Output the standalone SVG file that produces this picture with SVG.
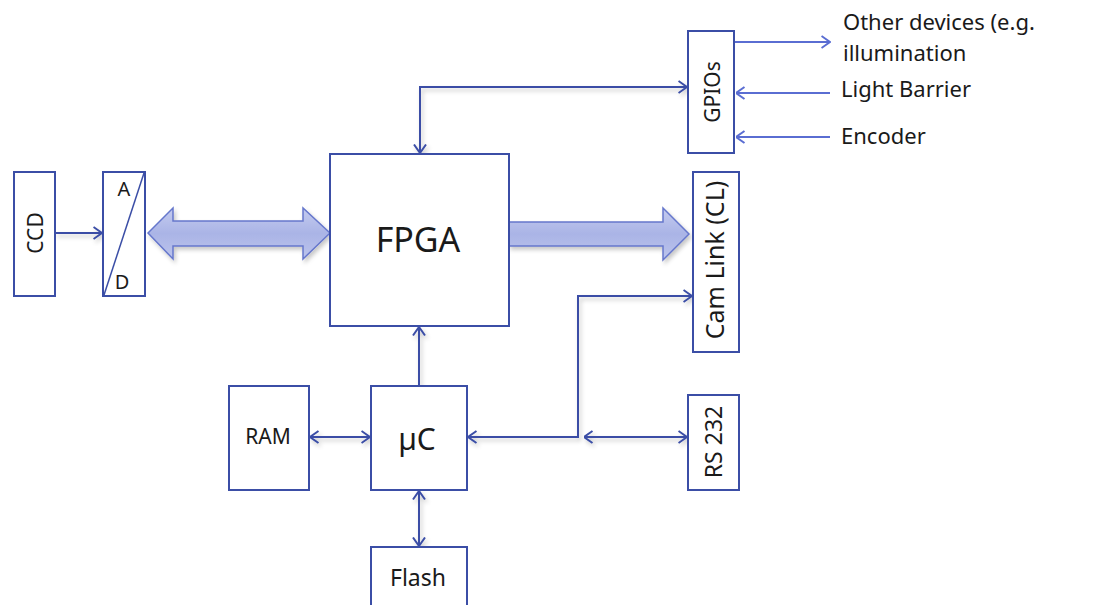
<svg xmlns="http://www.w3.org/2000/svg" width="1106" height="605" viewBox="0 0 1106 605">
  <style>
    .box { fill: #ffffff; stroke: #3b4ea6; stroke-width: 2; }
    .lbl { font-family: "Noto Sans", "Open Sans", sans-serif; fill: #1a1a1a; }
    .wire { fill: none; stroke: #3b4ea6; stroke-width: 2; }
    .wire-lt { fill: none; stroke: #5a6dd2; stroke-width: 2; }
    .bus { fill: url(#busFill); stroke: #6677cc; stroke-width: 1.5; }
  </style>
  <defs>
    <linearGradient id="busFill" x1="0" y1="0" x2="0" y2="1">
      <stop offset="0" stop-color="#c4cbef"/>
      <stop offset="0.5" stop-color="#aab4e6"/>
      <stop offset="1" stop-color="#bcc4ec"/>
    </linearGradient>
    <filter id="shadow" x="-10%" y="-10%" width="130%" height="140%">
      <feDropShadow dx="2" dy="3" stdDeviation="2" flood-color="#000" flood-opacity="0.22"/>
    </filter>
    <marker id="arr" viewBox="0 0 10 14" refX="9.5" refY="7" markerWidth="10" markerHeight="14" markerUnits="userSpaceOnUse" orient="auto-start-reverse">
      <path d="M1,1 L9.5,7 L1,13" fill="none" stroke="#3b4ea6" stroke-width="2"/>
    </marker>
    <marker id="arrLt" viewBox="0 0 10 14" refX="9.5" refY="7" markerWidth="10" markerHeight="14" markerUnits="userSpaceOnUse" orient="auto-start-reverse">
      <path d="M1,1 L9.5,7 L1,13" fill="none" stroke="#5a6dd2" stroke-width="2"/>
    </marker>
  </defs>

  <!-- connectors -->
  <g id="connectors">
    <g filter="url(#shadow)">
      <!-- data buses -->
      <polygon class="bus" points="148,233 173,208 173,221 303,221 303,208 330,233 303,259 303,246 173,246 173,259"/>
      <polygon class="bus" points="509,222 663,222 663,208 689,234 663,260 663,246 509,246"/>
      <!-- CCD to A/D -->
      <path class="wire" d="M55,233 H102" marker-end="url(#arr)"/>
      <!-- FPGA to GPIOs -->
      <path class="wire" d="M420,153 V87 H687" marker-start="url(#arr)" marker-end="url(#arr)"/>
      <!-- uC to FPGA -->
      <path class="wire" d="M419,386 V327" marker-end="url(#arr)"/>
      <!-- RAM to uC -->
      <path class="wire" d="M310,437 H370" marker-start="url(#arr)" marker-end="url(#arr)"/>
      <!-- uC to Flash -->
      <path class="wire" d="M419,491 V546" marker-start="url(#arr)" marker-end="url(#arr)"/>
      <!-- uC to Cam Link -->
      <path class="wire" d="M468,437 H578 V296 H692" marker-start="url(#arr)" marker-end="url(#arr)"/>
      <!-- uC to RS 232 -->
      <path class="wire" d="M584,437 H687" marker-start="url(#arr)" marker-end="url(#arr)"/>
    </g>
    <!-- external GPIO signals -->
    <path class="wire-lt" d="M735,42 H830" marker-end="url(#arrLt)"/>
    <path class="wire-lt" d="M830,93 H736" marker-end="url(#arrLt)"/>
    <path class="wire-lt" d="M830,137 H736" marker-end="url(#arrLt)"/>
  </g>

  <!-- nodes -->
  <g id="ccd">
    <rect class="box" x="14" y="172" width="41" height="124"/>
    <text class="lbl" font-size="21" text-anchor="middle" transform="translate(43,233) rotate(-90)">CCD</text>
  </g>
  <g id="adc">
    <rect class="box" x="103" y="172" width="42" height="124"/>
    <line x1="144" y1="173" x2="104" y2="295" stroke="#3b4ea6" stroke-width="1.5"/>
    <text class="lbl" font-size="20" x="124" y="196" text-anchor="middle">A</text>
    <text class="lbl" font-size="20" x="122" y="289" text-anchor="middle">D</text>
  </g>
  <g id="fpga">
    <rect class="box" x="330" y="154" width="179" height="172"/>
    <text class="lbl" font-size="34" x="418" y="252" text-anchor="middle">FPGA</text>
  </g>
  <g id="gpios">
    <rect class="box" x="688" y="31" width="46" height="122"/>
    <text class="lbl" font-size="21" text-anchor="middle" transform="translate(720,92) rotate(-90)">GPIOs</text>
  </g>
  <g id="camlink">
    <rect class="box" x="693" y="172" width="46" height="180"/>
    <text class="lbl" font-size="25" text-anchor="middle" transform="translate(724,260) rotate(-90)">Cam Link (CL)</text>
  </g>
  <g id="rs232">
    <rect class="box" x="688" y="395" width="51" height="95"/>
    <text class="lbl" font-size="23" text-anchor="middle" transform="translate(722,442) rotate(-90)">RS 232</text>
  </g>
  <g id="uc">
    <rect class="box" x="371" y="386" width="96" height="104"/>
    <text class="lbl" font-size="30" x="417" y="450" text-anchor="middle">µC</text>
  </g>
  <g id="ram">
    <rect class="box" x="229" y="386" width="80" height="104"/>
    <text class="lbl" font-size="21" x="268" y="444" text-anchor="middle">RAM</text>
  </g>
  <g id="flash">
    <rect class="box" x="371" y="547" width="96" height="70"/>
    <text class="lbl" font-size="23" x="418" y="586" text-anchor="middle">Flash</text>
  </g>

  <!-- external signal labels -->
  <g id="ext-labels">
    <text class="lbl" font-size="22" x="843" y="30">Other devices (e.g.</text>
    <text class="lbl" font-size="22" x="843" y="61">illumination</text>
    <text class="lbl" font-size="22" x="841" y="97">Light Barrier</text>
    <text class="lbl" font-size="22" x="841" y="144">Encoder</text>
  </g>
</svg>
